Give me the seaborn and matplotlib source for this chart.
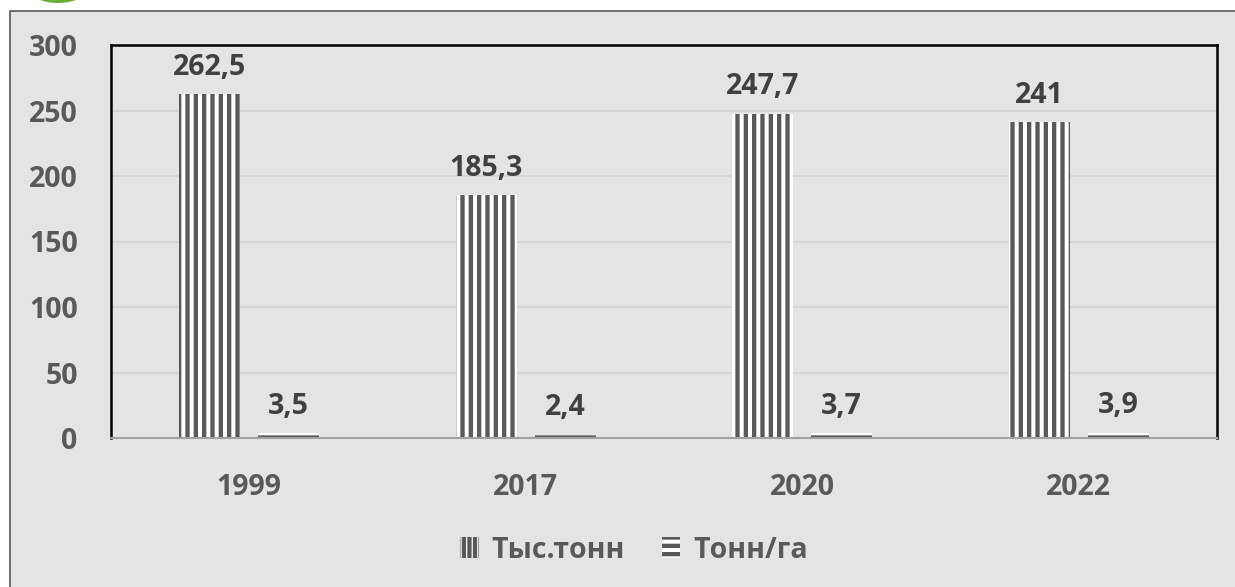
import matplotlib
matplotlib.use("Agg")
import matplotlib.pyplot as plt
from matplotlib.patches import Patch, Rectangle, Ellipse
import seaborn as sns
import pandas as pd

years = ["1999", "2017", "2020", "2022"]
thousand_tonnes = [262.5, 185.3, 247.7, 241]
tonnes_per_ha = [3.5, 2.4, 3.7, 3.9]
series_names = ["Тыс.тонн", "Тонн/га"]
y_ticks = [0, 50, 100, 150, 200, 250, 300]

df = pd.DataFrame({
    "year": years * 2,
    "value": thousand_tonnes + tonnes_per_ha,
    "series": [series_names[0]] * len(years) + [series_names[1]] * len(years),
})

sns.set_theme(style="white")
plt.rcParams["font.family"] = ["Open Sans", "DejaVu Sans"]
plt.rcParams["hatch.linewidth"] = 3.1

BG = "#E4E4E4"
GREY = "#595959"
DARK = "#404040"
FS = 20.5

W, H = 1235, 587
fig = plt.figure(figsize=(W / 100, H / 100), dpi=100, facecolor="white")

# grey card behind the chart
fig.add_artist(Rectangle((10 / W, -0.05), 1.1, 1 - 11 / H + 0.05,
                         transform=fig.transFigure, facecolor=BG,
                         edgecolor="#5A5A5A", linewidth=1.2, zorder=-2))
fig.add_artist(Ellipse((58 / W, 1 + 9 / H), 54 / W, 24 / H,
                       transform=fig.transFigure, facecolor="#6AAE3A",
                       edgecolor="none", zorder=-1))

ax = fig.add_axes([111 / W, (H - 438) / H, (1217 - 111) / W, (438 - 45) / H])
ax.set_zorder(1)
ax.set_facecolor(BG)

sns.barplot(data=df, x="year", y="value", hue="series", hue_order=series_names,
            order=years, width=0.571, gap=0.228, ax=ax, legend=False,
            linewidth=0, saturation=1)

hatches = ["||", "--"]
for container, hatch, vals in zip(ax.containers, hatches,
                                  [thousand_tonnes, tonnes_per_ha]):
    for bar in container:
        bar.set_facecolor("white")
        bar.set_edgecolor(GREY)
        bar.set_hatch(hatch)
        bar.set_linewidth(0)
    labels = [f"{v:g}".replace(".", ",") for v in vals]
    ax.bar_label(container, labels=labels, padding=9, fontsize=FS,
                 fontweight="bold", color=DARK)

ax.set_ylim(0, 300)
ax.set_yticks(y_ticks)
ax.set_yticklabels([str(t) for t in y_ticks])
ax.yaxis.grid(True, color="#D4D4D4", linewidth=1.3)
ax.set_axisbelow(True)
ax.set_xlabel("")
ax.set_ylabel("")
ax.tick_params(axis="y", length=0, pad=24, labelsize=FS, labelcolor=GREY)
ax.tick_params(axis="x", length=0, pad=25, labelsize=FS, labelcolor=GREY)
for lab in ax.get_xticklabels() + ax.get_yticklabels():
    lab.set_fontweight("bold")

for side in ["left", "top", "right"]:
    ax.spines[side].set_color("black")
    ax.spines[side].set_linewidth(1.8)
ax.spines["bottom"].set_color("#A0A0A0")
ax.spines["bottom"].set_linewidth(1.5)

handles = [Patch(facecolor="white", edgecolor=GREY, hatch=h, linewidth=0)
           for h in ["|||", "--"]]
fig.legend(handles, series_names, loc="center", bbox_to_anchor=(634 / W, 1 - 550 / H),
           ncol=2, frameon=False, handlelength=0.65, handleheight=0.75,
           handletextpad=0.45, columnspacing=1.3,
           prop={"size": FS, "weight": "bold"}, labelcolor=GREY)

fig.savefig("out.png", dpi=100, facecolor="white")
